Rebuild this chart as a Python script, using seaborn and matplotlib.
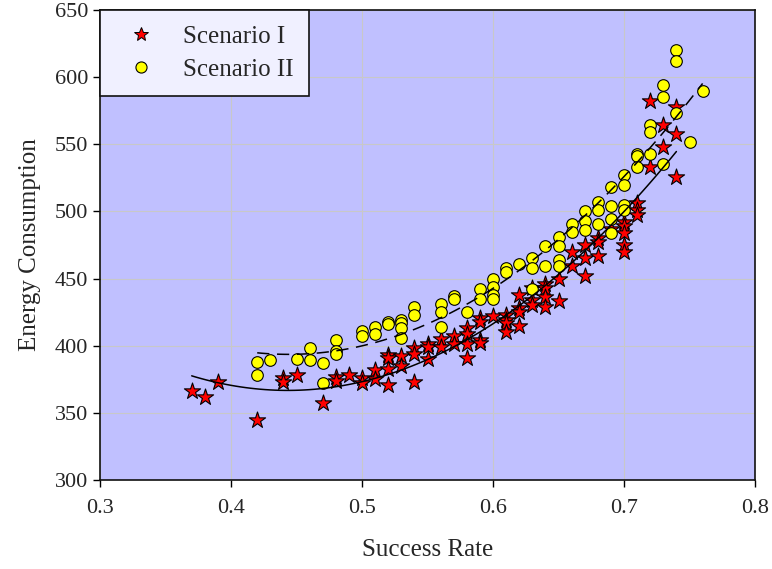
import numpy as np
import pandas as pd
import seaborn as sns
import matplotlib
matplotlib.use("Agg")
import matplotlib.pyplot as plt
from matplotlib.lines import Line2D

# ---------------- data ----------------
s1_x = [0.37, 0.38, 0.39, 0.42, 0.44, 0.44, 0.45, 0.47, 0.48, 0.48, 0.49,
        0.50, 0.50, 0.51, 0.51, 0.52, 0.52, 0.52, 0.52, 0.53, 0.53,
        0.54, 0.54, 0.54, 0.55, 0.55, 0.55, 0.56, 0.56, 0.57, 0.57,
        0.58, 0.58, 0.58, 0.58, 0.59, 0.59, 0.59, 0.59, 0.60,
        0.61, 0.61, 0.61, 0.61, 0.62, 0.62, 0.62, 0.62, 0.63, 0.63, 0.63,
        0.64, 0.64, 0.64, 0.64, 0.65, 0.65, 0.66, 0.66, 0.67, 0.67, 0.67,
        0.68, 0.68, 0.68, 0.69, 0.70, 0.70, 0.70, 0.70, 0.70,
        0.71, 0.71, 0.71, 0.72, 0.72, 0.73, 0.73, 0.74, 0.74, 0.74]
s1_y = [366, 362, 373, 345, 376, 373, 378, 357, 377, 374, 378,
        376, 372, 382, 375, 393, 391, 383, 371, 392, 385,
        398, 394, 373, 401, 399, 390, 405, 399, 407, 401,
        413, 409, 401, 391, 421, 418, 404, 402, 422,
        423, 419, 417, 410, 438, 428, 425, 415, 443, 434, 430,
        446, 443, 436, 429, 450, 433, 470, 459, 475, 465, 452,
        480, 477, 467, 487, 492, 489, 484, 475, 470,
        506, 501, 497, 582, 533, 564, 548, 578, 558, 526]

s2_x = [0.42, 0.42, 0.43, 0.45, 0.46, 0.46, 0.47, 0.47, 0.48, 0.48, 0.48,
        0.50, 0.50, 0.51, 0.51, 0.52, 0.52, 0.53, 0.53, 0.53, 0.53,
        0.54, 0.54, 0.56, 0.56, 0.56, 0.57, 0.57, 0.58, 0.59, 0.59,
        0.60, 0.60, 0.60, 0.60, 0.61, 0.61, 0.62, 0.63, 0.63, 0.63,
        0.64, 0.64, 0.65, 0.65, 0.65, 0.65, 0.66, 0.66, 0.67, 0.67, 0.67,
        0.68, 0.68, 0.68, 0.69, 0.69, 0.69, 0.69, 0.70, 0.70, 0.70, 0.70,
        0.71, 0.71, 0.71, 0.72, 0.72, 0.72, 0.73, 0.73, 0.73,
        0.74, 0.74, 0.74, 0.75, 0.76]
s2_y = [388, 378, 389, 390, 398, 389, 387, 372, 404, 396, 394,
        411, 407, 414, 409, 418, 416, 419, 417, 413, 406,
        429, 423, 431, 425, 414, 437, 435, 425, 442, 435,
        450, 444, 438, 435, 458, 455, 461, 465, 458, 442,
        474, 459, 481, 474, 464, 459, 491, 485, 500, 493, 486,
        507, 501, 491, 518, 504, 494, 484, 527, 520, 505, 501,
        543, 541, 533, 564, 559, 543, 594, 585, 535,
        620, 612, 573, 552, 590]

labels = ["Scenario I", "Scenario II"]
x_ticks = [0.3, 0.4, 0.5, 0.6, 0.7, 0.8]
y_ticks = [300, 350, 400, 450, 500, 550, 600, 650]

df1 = pd.DataFrame({"x": s1_x, "y": s1_y})
df2 = pd.DataFrame({"x": s2_x, "y": s2_y})

# ---------------- style ----------------
sns.set_style("ticks")
plt.rcParams["font.family"] = ["Liberation Serif", "DejaVu Serif"]

fig = plt.figure(figsize=(7.72, 5.69), dpi=100)
ax = fig.add_axes([100 / 772, 1 - 480 / 569, 655 / 772, 470 / 569])
ax.set_facecolor("#c0c0ff")

ax.grid(True, color="#c8c8c8", linewidth=0.8)
ax.set_axisbelow(True)

sns.scatterplot(data=df1, x="x", y="y", ax=ax, marker="*", s=150,
                color="#ff0000", edgecolor="black", linewidth=0.8, zorder=3)
sns.scatterplot(data=df2, x="x", y="y", ax=ax, marker="o", s=70,
                color="#ffff00", edgecolor="black", linewidth=0.8, zorder=4)

sns.regplot(data=df1, x="x", y="y", ax=ax, order=2, scatter=False, ci=None,
            truncate=True, line_kws=dict(color="black", linewidth=1.1, zorder=5))
sns.regplot(data=df2, x="x", y="y", ax=ax, order=2, scatter=False, ci=None,
            truncate=True, line_kws=dict(color="black", linewidth=1.1,
                                         linestyle=(0, (8, 5)), zorder=5))

ax.set_xlim(0.3, 0.8)
ax.set_ylim(300, 650)
ax.set_xticks(x_ticks)
ax.set_yticks(y_ticks)
ax.set_xticklabels([f"{t:.1f}" for t in x_ticks])
ax.set_xlabel("Success Rate", fontsize=18, labelpad=15)
ax.set_ylabel("Energy Consumption", fontsize=18, labelpad=10)
ax.tick_params(axis="both", labelsize=16, direction="out", length=5,
               width=1, color="black")
ax.tick_params(axis="x", pad=9)
ax.tick_params(axis="y", pad=3.5)
for sp in ax.spines.values():
    sp.set_color("#111111")
    sp.set_linewidth(1.2)

handles = [
    Line2D([], [], marker="*", linestyle="none", markersize=10,
           markerfacecolor="#ff0000", markeredgecolor="black", markeredgewidth=0.7),
    Line2D([], [], marker="o", linestyle="none", markersize=8,
           markerfacecolor="#ffff00", markeredgecolor="black", markeredgewidth=0.8),
]
leg = ax.legend(handles, labels, loc="upper left", bbox_to_anchor=(0, 1),
                borderaxespad=0, fontsize=18, frameon=True, fancybox=False,
                handletextpad=0.7, borderpad=0.62, labelspacing=0.4,
                handlelength=2.0)
leg.get_frame().set_facecolor("#f0f0ff")
leg.get_frame().set_edgecolor("#111111")
leg.get_frame().set_alpha(1)
leg.get_frame().set_linewidth(1.2)

fig.savefig("out.png", dpi=100)
